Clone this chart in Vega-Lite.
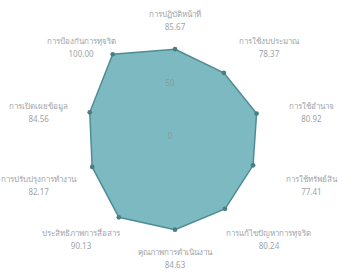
{
  "$schema": "https://vega.github.io/schema/vega-lite/v6.json",
  "width": 355,
  "height": 276,
  "autosize": "none",
  "padding": 0,
  "background": "#ffffff",
  "config": {"view": {"stroke": null}, "font": "Noto Sans"},
  "data": {
    "values": [
      {"i": 0, "name": "การปฏิบัติหน้าที่", "value": 85.67},
      {"i": 1, "name": "การใช้งบประมาณ", "value": 78.37},
      {"i": 2, "name": "การใช้อำนาจ", "value": 80.92},
      {"i": 3, "name": "การใช้ทรัพย์สิน", "value": 77.41},
      {"i": 4, "name": "การแก้ไขปัญหาการทุจริต", "value": 80.24},
      {"i": 5, "name": "คุณภาพการดำเนินงาน", "value": 84.63},
      {"i": 6, "name": "ประสิทธิภาพการสื่อสาร", "value": 90.13},
      {"i": 7, "name": "การปรับปรุงการทำงาน", "value": 82.17},
      {"i": 8, "name": "การเปิดเผยข้อมูล", "value": 84.56},
      {"i": 9, "name": "การป้องกันการทุจริต", "value": 100.0}
    ]
  },
  "transform": [
    {"calculate": "datum.i * 2 * PI / 10", "as": "a"},
    {"calculate": "datum.value * sin(datum.a)", "as": "px"},
    {"calculate": "datum.value * cos(datum.a)", "as": "py"},
    {"calculate": "sin(datum.a) > 0.1 ? 1 : (sin(datum.a) < -0.1 ? -1 : 0)", "as": "side"},
    {"calculate": "110 * sin(datum.a) + 24 * datum.side", "as": "lx"},
    {"calculate": "112 * cos(datum.a) - 10 * pow(sin(datum.a), 2)", "as": "ly"},
    {"calculate": "format(datum.value, '.2f')", "as": "vlabel"}
  ],
  "encoding": {
    "x": {"type": "quantitative", "scale": {"domain": [-165.1, 169.8], "nice": false, "zero": false}, "axis": null},
    "y": {"type": "quantitative", "scale": {"domain": [-128.3, 132.1], "nice": false, "zero": false}, "axis": null}
  },
  "layer": [
    {
      "mark": {"type": "line", "interpolate": "linear-closed", "fill": "#7db9c1", "fillOpacity": 1, "stroke": "#4f8c94", "strokeWidth": 1.5},
      "encoding": {
        "x": {"field": "px"},
        "y": {"field": "py"},
        "order": {"field": "i", "type": "quantitative"}
      }
    },
    {
      "mark": {"type": "circle", "size": 22, "color": "#4a7d84", "opacity": 1},
      "encoding": {"x": {"field": "px"}, "y": {"field": "py"}}
    },
    {
      "data": {"values": [{"t": 0}, {"t": 50}]},
      "transform": [],
      "mark": {"type": "text", "fontSize": 8, "color": "#8a9a9c", "dx": -5, "dy": -3},
      "encoding": {
        "x": {"datum": 0},
        "y": {"field": "t", "type": "quantitative"},
        "text": {"field": "t", "type": "nominal"}
      }
    },
    {
      "mark": {"type": "text", "fontSize": 8, "color": "#9ea4a8", "dy": -6},
      "encoding": {"x": {"field": "lx"}, "y": {"field": "ly"}, "text": {"field": "name"}}
    },
    {
      "mark": {"type": "text", "fontSize": 8, "color": "#9ea4a8", "dy": 7},
      "encoding": {"x": {"field": "lx"}, "y": {"field": "ly"}, "text": {"field": "vlabel"}}
    }
  ]
}
